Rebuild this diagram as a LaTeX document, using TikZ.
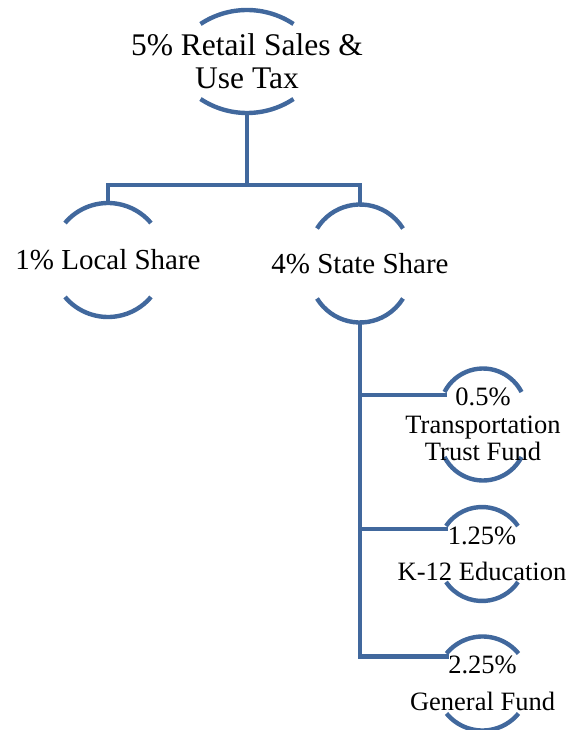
\documentclass[tikz,border=0pt]{standalone}
\usepackage{fontspec}
\setmainfont{Liberation Serif}
\usetikzlibrary{backgrounds}
\definecolor{taxblue}{HTML}{41689D}
\tikzset{
  % linjer
  link/.style={draw=taxblue,line width=4.6pt},
  ring/.style={draw=taxblue,line width=4.4pt},
  % text
  lbl/.style={align=center,inner sep=0pt,text=black},
  bigtxt/.style={lbl,font=\fontsize{31.5}{33}\selectfont},
  midtxt/.style={lbl,font=\fontsize{29}{31}\selectfont},
  smalltxt/.style={lbl,font=\fontsize{26.5}{27.5}\selectfont},
}

\begin{document}
\begin{tikzpicture}[x=1pt,y=1pt]
  \useasboundingbox (0,0) rectangle (580,-730);
  \node[bigtxt] (retail) at (247,-61.5) {5\% Retail Sales \&\\Use Tax};
  \node[midtxt] (local) at (108,-260) {1\% Local Share};
  \node[midtxt] (state) at (360,-263.5) {4\% State Share};
  \node[smalltxt] (ttf) at (483,-424.5) {0.5\%\\Transportation\\Trust Fund};
  \node[smalltxt] (kedu) at (482,-554) {1.25\%\\[8.5pt]K-12 Education};
  \node[smalltxt] (genfund) at (482.5,-683.5) {2.25\%\\[9pt]General Fund};
  \begin{scope}[on background layer]
  \foreach \n/\hw/\dy/\s in {retail/46.5/37.5/14,local/43/37/20,state/43/35/24,
                             ttf/38.5/32.5/23.5,kedu/36/28/19,genfund/36/30/17} {
    \pgfmathsetmacro\R{(\hw*\hw+\s*\s)/(2*\s)}
    \pgfmathsetmacro\a{asin(\hw/\R)}
    \draw[ring] ([shift={(-\hw,\dy)}]\n.center) arc[start angle=90+\a,end angle=90-\a,radius=\R];
    \draw[ring] ([shift={(-\hw,-\dy)}]\n.center) arc[start angle=270-\a,end angle=270+\a,radius=\R];
    \coordinate (\n-top) at ([shift={(0,\dy+\s)}]\n.center);
    \coordinate (\n-bot) at ([shift={(0,-\dy-\s)}]\n.center);
    \coordinate (\n-in) at ([shift={(-\hw+2,\dy-3)}]\n.center);
  }
  \end{scope}
  \coordinate (split) at (247,-185);
  \draw[link] (retail-bot) -- (split);
  \draw[link] (local-top) |- (split) -| (state-top);
  \draw[link] (state-bot) |- (genfund-in);
  \draw[link] (state-bot |- ttf-in) -- (ttf-in);
  \draw[link] (state-bot |- kedu-in) -- (kedu-in);
\end{tikzpicture}
\end{document}
